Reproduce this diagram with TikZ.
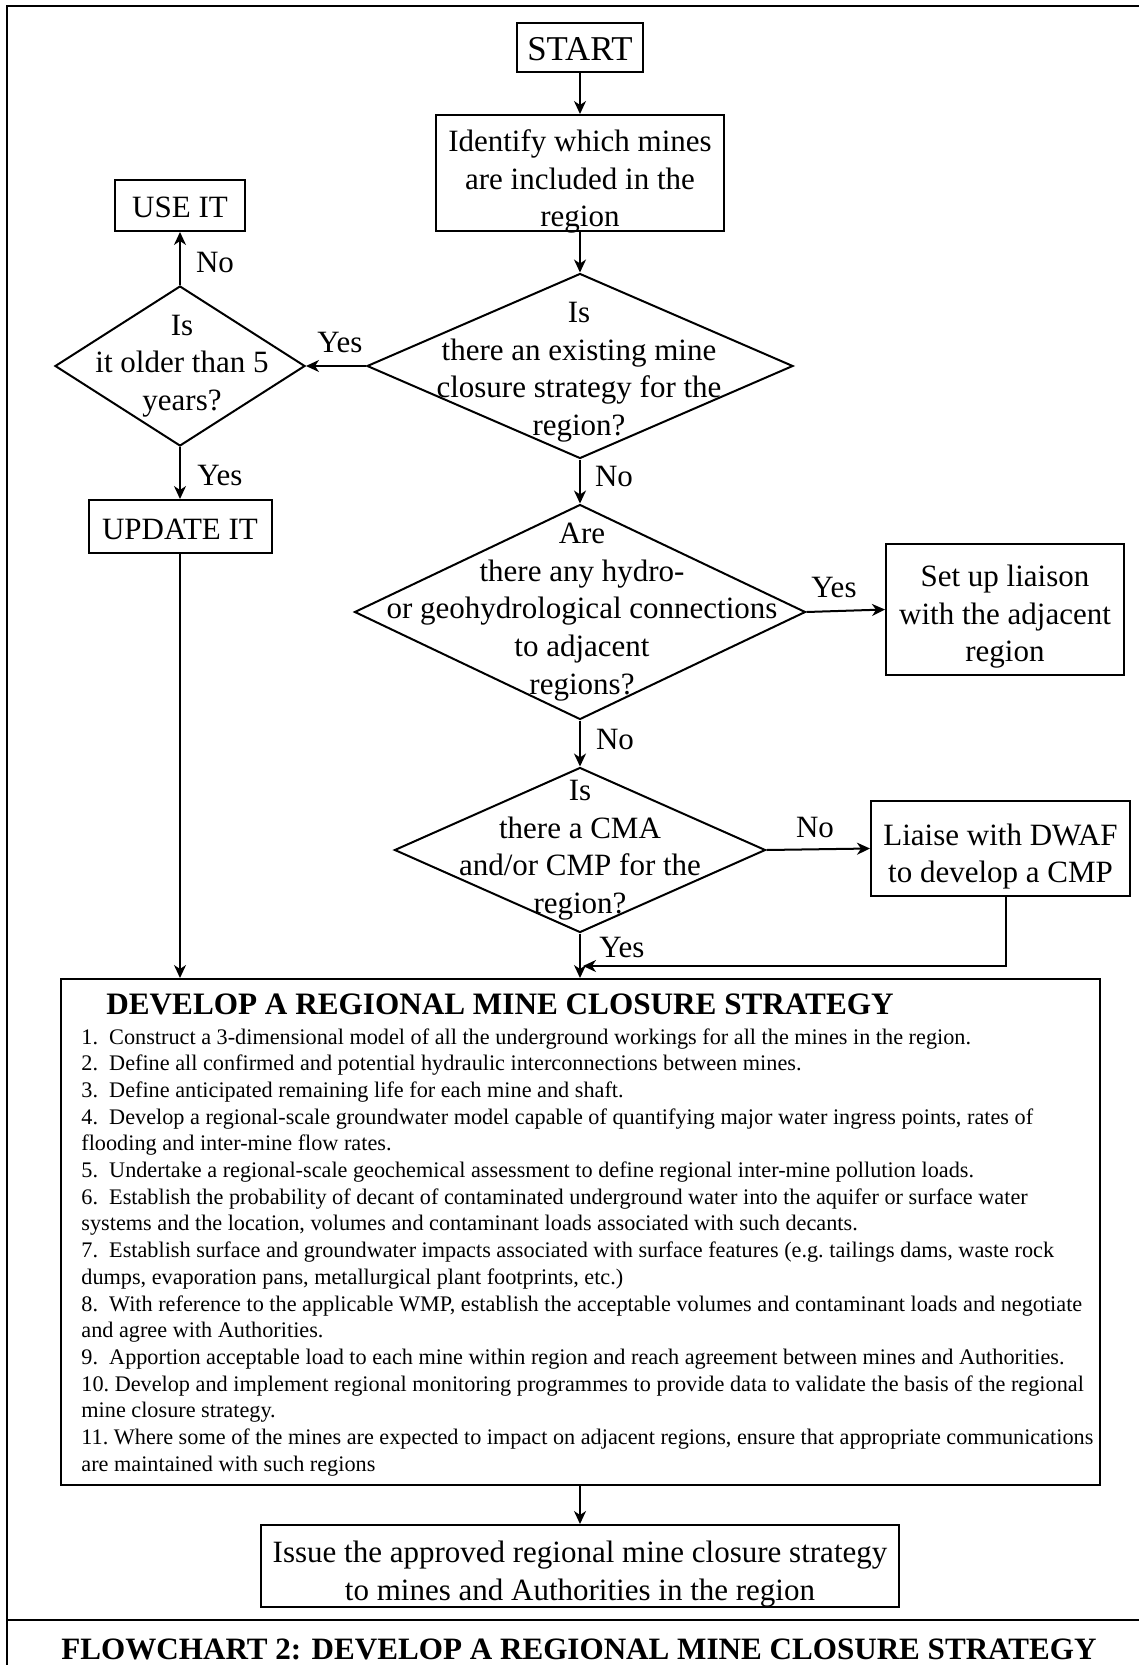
\documentclass[tikz,border=0pt]{standalone}
\usepackage{fontspec}
\setmainfont{Liberation Serif}
\usetikzlibrary{shapes.geometric,arrows.meta}
\newcommand\mainfs{\fontsize{15.5}{18.8}\selectfont}
\begin{document}
\begin{tikzpicture}[x=0.5pt,y=-0.5pt,
  every node/.style={font=\mainfs},
  box/.style={draw, line width=1pt, inner sep=0pt},
  dia/.style={draw, diamond, line width=1pt, inner sep=0pt},
  arr/.style={-{Stealth[length=6.5pt,width=6pt,inset=2pt]}, line width=1pt},
  lbl/.style={inner sep=0pt},
  txt/.style={inner sep=0pt, align=center}]
\useasboundingbox (0,0) rectangle (1139,1665);
\fill[white] (0,0) rectangle (1139,1665);
% frame
\draw[line width=1.1pt] (1139,6) -- (7,6) -- (7,1665);
\draw[line width=1.1pt] (7,1620) -- (1139,1620);

% boxes and decisions
\node[box, minimum width=63pt, minimum height=24.5pt] (start) at (580,47.5) {};
\node[txt, font=\fontsize{17.4}{20}\selectfont] (startt) at ([yshift=-1pt]start.center) {START};
\node[box, minimum width=144pt, minimum height=58pt] (ident) at (580,173) {};
\node[txt] (identt) at ([yshift=-4.4pt]ident.center) {Identify which mines\\are included in the\\region};
\node[box, minimum width=65pt, minimum height=25.5pt] (useit) at (180,205.5) {};
\node[txt] (useitt) at ([yshift=-1pt]useit.center) {USE IT};
\node[dia, minimum width=213pt, minimum height=92.5pt] (d1) at (580,366) {};
\node[txt] (d1t) at (579,372) {Is\\there an existing mine\\closure strategy for the\\region?};
\node[dia, minimum width=125pt, minimum height=80pt] (d2) at (180,366) {};
\node[txt] (d2t) at (182,366) {Is\\it older than 5\\years?};
\node[box, minimum width=91.5pt, minimum height=26.5pt] (update) at (180,526.5) {};
\node[txt] (updatet) at ([yshift=-1.5pt]update.center) {UPDATE IT};
\node[dia, minimum width=225.5pt, minimum height=107.5pt] (d3) at (580,612) {};
\node[txt] (d3t) at (582,612) {Are\\there any hydro-\\or geohydrological connections\\to adjacent\\regions?};
\node[box, minimum width=119pt, minimum height=65.5pt] (liaison) at (1005,609.5) {};
\node[txt] (liaisont) at ([yshift=-3.7pt]liaison.center) {Set up liaison\\with the adjacent\\region};
\node[dia, minimum width=185.5pt, minimum height=82.5pt] (d4) at (580,850) {};
\node[txt] (d4t) at (580,850) {Is\\there a CMA\\and/or CMP for the\\region?};
\node[box, minimum width=129.5pt, minimum height=47.5pt] (dwaf) at (1000.5,848.5) {};
\node[txt] (dwaft) at ([yshift=-4pt]dwaf.center) {Liaise with DWAF\\to develop a CMP};
\node[box, minimum width=519.5pt, minimum height=253pt] (develop) at (580,1232) {};
\node[inner sep=0pt, font=\bfseries\fontsize{15.6}{18}\selectfont] (devtitle) at (500,1004) {DEVELOP A REGIONAL MINE CLOSURE STRATEGY};
\node[inner sep=0pt, anchor=north west, align=left, font=\fontsize{11.12}{13.35}\selectfont\frenchspacing] (devlist) at (81,1028) {%
1.\ \ Construct a 3-dimensional model of all the underground workings for all the mines in the region.\\
2.\ \ Define all confirmed and potential hydraulic interconnections between mines.\\
3.\ \ Define anticipated remaining life for each mine and shaft.\\
4.\ \ Develop a regional-scale groundwater model capable of quantifying major water ingress points, rates of\\
flooding and inter-mine flow rates.\\
5.\ \ Undertake a regional-scale geochemical assessment to define regional inter-mine pollution loads.\\
6.\ \ Establish the probability of decant of contaminated underground water into the aquifer or surface water\\
systems and the location, volumes and contaminant loads associated with such decants.\\
7.\ \ Establish surface and groundwater impacts associated with surface features (e.g. tailings dams, waste rock\\
dumps, evaporation pans, metallurgical plant footprints, etc.)\\
8.\ \ With reference to the applicable WMP, establish the acceptable volumes and contaminant loads and negotiate\\
and agree with Authorities.\\
9.\ \ Apportion acceptable load to each mine within region and reach agreement between mines and Authorities.\\
10. Develop and implement regional monitoring programmes to provide data to validate the basis of the regional\\
mine closure strategy.\\
11. Where some of the mines are expected to impact on adjacent regions, ensure that appropriate communications\\
are maintained with such regions};
\node[box, minimum width=319pt, minimum height=41pt] (issue) at (580,1566) {};
\node[txt] (issuet) at ([yshift=-4pt]issue.center) {Issue the approved regional mine closure strategy\\to mines and Authorities in the region};
\node[inner sep=0pt, font=\bfseries\fontsize{15.55}{18}\selectfont] (footer) at (579,1649) {FLOWCHART 2: DEVELOP A REGIONAL MINE CLOSURE STRATEGY};

% labels
\node[lbl] (l1) at (340,342) {Yes};
\node[lbl] (l2) at (215,262) {No};
\node[lbl] (l3) at (220,475) {Yes};
\node[lbl] (l4) at (614,476) {No};
\node[lbl] (l5) at (834,587) {Yes};
\node[lbl] (l6) at (615,739) {No};
\node[lbl] (l7) at (815,827) {No};
\node[lbl] (l8) at (622,947) {Yes};

% connectors
\coordinate (mj) at (583,966);
\draw[arr] (start) -- (ident);
\draw[arr] (ident) -- (d1);
\draw[arr] (d1.west) -- (d2.east);
\draw[arr] (d2.north) -- (useit.south);
\draw[arr] (d2.south) -- (update.north);
\draw[arr] (d1.south) -- (d3.north);
\draw[arr] (d3.east) -- (liaison.west);
\draw[arr] (d3.south) -- (d4.north);
\draw[arr] (d4.east) -- (dwaf.west);
\draw[arr] (d4.south) -- (develop.north -| d4.south);
\draw[arr] ([xshift=2.5pt]dwaf.south) |- (mj);
\draw[arr] (update.south) -- (update.south |- develop.north);
\draw[arr] (develop.south -| issue.north) -- (issue.north);
\end{tikzpicture}
\end{document}
